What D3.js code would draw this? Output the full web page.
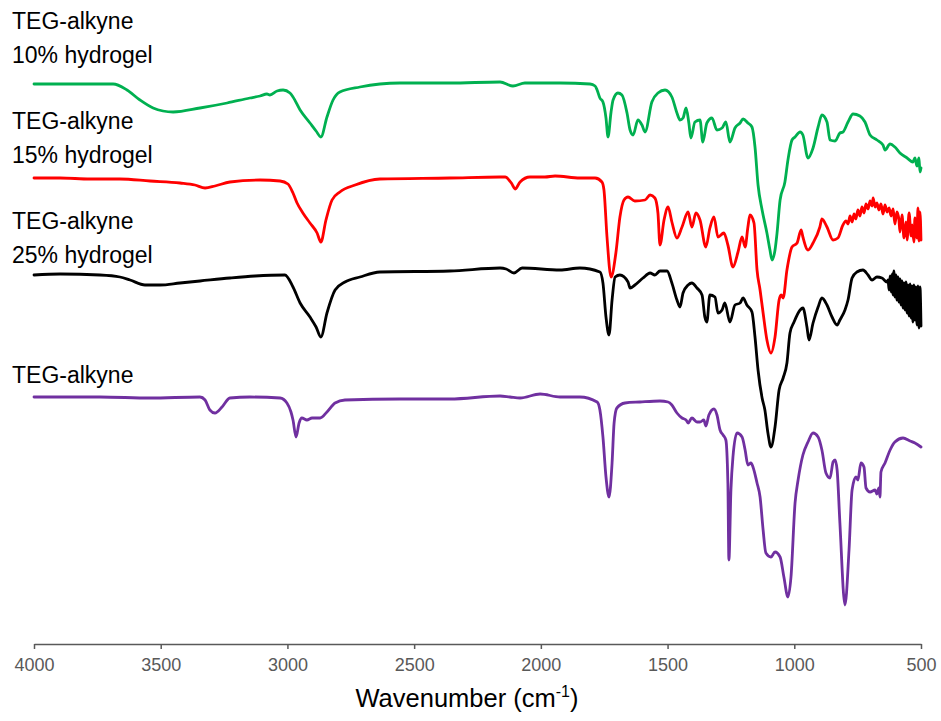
<!DOCTYPE html>
<html>
<head>
<meta charset="utf-8">
<script src="https://cdn.jsdelivr.net/npm/d3@7"></script>
<style>
  html, body { margin: 0; padding: 0; background: #fff; }
  svg { display: block; }
</style>
</head>
<body>
<svg id="chart" width="941" height="721"></svg>
<script>
// FTIR spectra, stacked with vertical offsets (transmittance, a.u.)
// Each series: [wavenumber (cm-1), offset transmittance]

const tickValues = [4000, 3500, 3000, 2500, 2000, 1500, 1000, 500];
const seriesNames = ["TEG-alkyne 10% hydrogel", "TEG-alkyne 15% hydrogel", "TEG-alkyne 25% hydrogel", "TEG-alkyne"];
const seriesColors = ["#00b050", "#ff0000", "#000000", "#7030a0"];

const hydrogel10 = [
  [4000,561],[3897,561],[3800,561],[3688,561],[3633,555],[3582,545],[3530,537],[3491,534],
  [3451,533],[3345,537],[3238,542],[3148,547],[3108,549],[3081,551],[3069,550],[3041,554],
  [3017,555],[2990,552],[2978,548],[2950,535],[2911,522],[2887,514],[2868,508],[2844,528],
  [2820,545],[2793,553],[2714,558],[2635,561],[2556,562],[2359,562],[2161,563],[2110,559],
  [2063,562],[1924,562],[1806,561],[1786,559],[1778,555],[1767,547],[1755,543],[1743,527],
  [1735,508],[1723,533],[1715,545],[1696,552],[1680,550],[1660,532],[1648,515],[1636,510],
  [1617,525],[1601,520],[1589,513],[1562,543],[1538,552],[1510,555],[1483,548],[1463,532],
  [1451,525],[1439,527],[1427,537],[1416,522],[1408,507],[1392,523],[1372,525],[1361,503],
  [1345,522],[1325,527],[1305,515],[1285,517],[1270,523],[1254,503],[1234,517],[1214,522],
  [1202,526],[1183,522],[1167,518],[1155,498],[1143,460],[1127,435],[1108,412],[1096,395],
  [1088,385],[1076,395],[1068,412],[1056,445],[1037,463],[1025,485],[1009,505],[997,508],
  [977,513],[966,510],[946,487],[926,497],[906,518],[891,530],[871,523],[859,505],[839,504],
  [820,512],[808,513],[788,523],[768,531],[741,529],[721,523],[701,510],[674,505],[650,500],
  [642,495],[622,501],[603,498],[583,492],[555,487],[532,483],[524,487],[516,479],[512,483],
  [508,487],[504,473],[500,477]
];

const hydrogel15 = [
  [4000,467],[3897,467],[3779,466],[3661,466],[3542,464],[3424,462],[3365,460],[3325,457],
  [3286,459],[3227,463],[3108,465],[3029,464],[2998,461],[2978,452],[2962,442],[2939,432],
  [2911,422],[2883,412],[2868,403],[2848,425],[2824,445],[2793,453],[2733,460],[2635,466],
  [2359,467],[2161,468],[2141,468],[2114,461],[2102,456],[2082,463],[2043,468],[1984,468],
  [1944,469],[1846,467],[1786,467],[1759,463],[1751,455],[1739,408],[1723,368],[1704,392],
  [1688,428],[1672,445],[1656,448],[1629,444],[1589,445],[1569,450],[1550,447],[1538,432],
  [1530,400],[1514,425],[1498,438],[1483,423],[1463,407],[1443,418],[1419,433],[1404,418],
  [1388,432],[1372,425],[1349,398],[1333,417],[1317,428],[1301,408],[1278,412],[1262,400],
  [1242,378],[1222,393],[1206,408],[1194,398],[1183,418],[1175,430],[1159,422],[1147,375],
  [1135,355],[1123,332],[1108,305],[1092,292],[1076,308],[1060,345],[1052,350],[1044,347],
  [1029,375],[1009,398],[989,402],[973,415],[966,408],[946,395],[926,402],[899,418],
  [891,426],[871,418],[847,405],[828,407],[808,420],
  [796,424],[788,421],[780,429],[772,423],[764,431],[757,426],[749,435],[741,429],[733,438],
  [725,432],[717,441],[709,436],[701,444],[693,439],[689,447],[681,438],[674,442],[666,435],
  [658,441],[650,431],[642,440],[634,433],[626,437],[618,429],[610,436],[603,421],[595,433],
  [587,425],[583,413],[575,430],[567,407],[559,423],[555,405],[547,432],[539,409],[535,420],
  [528,403],[524,427],[516,407],[512,437],[508,404],[504,433],[500,405]
];

const hydrogel25 = [
  [4000,370],[3897,371],[3740,370],[3661,368],[3621,365],[3562,360],[3503,360],[3424,362],
  [3345,364],[3227,367],[3128,369],[3010,370],[2978,358],[2950,342],[2911,328],[2887,318],
  [2868,308],[2844,332],[2812,355],[2773,363],[2714,368],[2635,373],[2359,374],[2161,377],
  [2137,376],[2106,372],[2074,377],[1924,375],[1846,377],[1767,373],[1755,362],[1743,328],
  [1731,310],[1719,345],[1707,368],[1688,370],[1656,363],[1648,357],[1629,360],[1597,367],
  [1569,372],[1550,370],[1530,374],[1502,374],[1483,362],[1463,345],[1451,338],[1439,352],
  [1419,360],[1404,362],[1384,357],[1364,350],[1353,328],[1345,323],[1333,350],[1313,348],
  [1301,332],[1285,335],[1274,342],[1254,323],[1234,340],[1214,342],[1202,347],[1187,340],
  [1167,333],[1155,308],[1143,275],[1127,247],[1116,235],[1104,212],[1092,198],[1076,218],
  [1060,255],[1044,267],[1029,282],[1017,312],[1001,323],[977,335],[966,337],[950,318],
  [942,305],[926,322],[906,338],[891,347],[871,340],[851,328],[831,320],[820,325],[800,335],
  [788,345],[772,367],[753,373],[729,375],[709,370],[693,365],[674,368],[654,367],[634,363],
  [630,365],[626,355],[622,369],[618,353],[614,371],[610,350],[607,374],[603,348],[599,370],
  [595,345],[591,368],[587,343],[583,366],[579,340],[575,364],[571,337],[567,362],[563,335],
  [559,363],[555,332],[551,360],[547,329],[543,361],[539,327],[535,359],[532,323],[528,360],
  [524,325],[520,358],[516,320],[512,359],[508,317],[504,358],[500,319]
];

const tegAlkyne = [
  [4000,248],[3740,248],[3542,247],[3345,248],[3325,245],[3306,235],[3286,232],[3258,238],
  [3227,247],[3148,248],[3029,247],[3002,242],[2986,233],[2978,225],[2966,208],[2954,222],
  [2943,227],[2923,225],[2903,227],[2871,227],[2844,233],[2812,242],[2773,245],[2556,246],
  [2359,246],[2161,249],[2122,248],[2082,247],[2003,251],[1924,248],[1846,248],[1778,243],
  [1767,235],[1755,208],[1743,168],[1731,148],[1719,182],[1711,222],[1700,237],[1668,242],
  [1609,243],[1530,244],[1498,243],[1483,240],[1463,232],[1443,227],[1427,225],[1419,222],
  [1404,227],[1384,223],[1372,223],[1357,225],[1349,219],[1337,230],[1317,236],[1305,230],
  [1293,215],[1281,210],[1270,205],[1262,162],[1258,85],[1250,155],[1242,188],[1226,212],
  [1206,208],[1194,195],[1183,180],[1171,182],[1163,178],[1147,162],[1135,148],[1123,115],
  [1112,92],[1092,88],[1076,93],[1056,88],[1041,68],[1025,48],[1013,68],[997,142],[985,165],
  [966,190],[946,203],[926,212],[906,208],[891,195],[875,172],[859,167],[847,183],[839,185],
  [831,175],[820,122],[800,40],[784,95],[772,155],[757,168],[749,165],[737,182],[725,178],
  [717,157],[701,153],[681,155],[674,151],[666,157],[662,148],[658,173],[642,182],[622,195],
  [603,203],[571,207],[543,204],[524,202],[500,198]
];

const allSeries = [hydrogel10, hydrogel15, hydrogel25, tegAlkyne];
// label lines and first-line baselines
const labelLines = [
  ["TEG-alkyne", "10% hydrogel"],
  ["TEG-alkyne", "15% hydrogel"],
  ["TEG-alkyne", "25% hydrogel"],
  ["TEG-alkyne"]
];
const labelBaselines = [29, 129, 229, 383];

const svg = d3.select("#chart");
const axisY = 644;

const x = d3.scaleLinear().domain([4000, 500]).range([34, 921]);
const y = d3.scaleLinear().domain([0, 600]).range([645, 45]);

const line = d3.line()
  .x(d => x(d[0]))
  .y(d => y(d[1]))
  .curve(d3.curveMonotoneX);

svg.append("g")
  .selectAll("path")
  .data(allSeries)
  .join("path")
  .attr("d", line)
  .attr("fill", "none")
  .attr("stroke", (d, i) => seriesColors[i])
  .attr("stroke-width", 2.8)
  .attr("stroke-linejoin", "round")
  .attr("stroke-linecap", "round");

// series labels
const labels = svg.append("g")
  .attr("font-family", "'Liberation Sans', Arial, sans-serif")
  .attr("font-size", 23)
  .attr("fill", "#000");

labelLines.forEach((lines, i) => {
  const t = labels.append("text")
    .attr("x", 12)
    .attr("y", labelBaselines[i]);
  lines.forEach((s, j) => {
    t.append("tspan").attr("x", 12).attr("dy", j === 0 ? 0 : 34).text(s);
  });
});

// x axis
const axis = d3.axisBottom(x)
  .tickValues(tickValues)
  .tickFormat(d3.format("d"))
  .tickSize(5)
  .tickSizeOuter(0)
  .tickPadding(9);

const gAxis = svg.append("g")
  .attr("transform", `translate(0,${axisY})`)
  .call(axis);

gAxis.select(".domain").attr("stroke", "#595959").attr("stroke-width", 1.5);
gAxis.selectAll(".tick line").attr("stroke", "#595959").attr("stroke-width", 1.5);
gAxis.selectAll(".tick text")
  .attr("fill", "#595959")
  .attr("font-family", "'Liberation Sans', Arial, sans-serif")
  .attr("font-size", 18);

// axis title
const title = svg.append("text")
  .attr("x", 467)
  .attr("y", 707)
  .attr("text-anchor", "middle")
  .attr("font-family", "'Liberation Sans', Arial, sans-serif")
  .attr("font-size", 25.5)
  .attr("fill", "#000");
title.append("tspan").text("Wavenumber (cm");
title.append("tspan").attr("font-size", 16).attr("dy", -10).text("-1");
title.append("tspan").attr("dy", 10).text(")");
</script>
</body>
</html>
